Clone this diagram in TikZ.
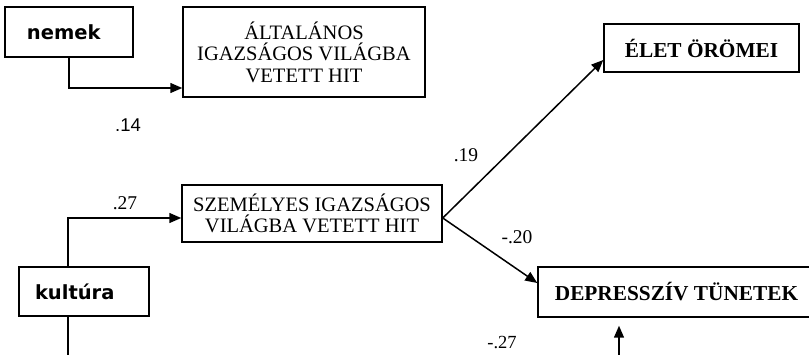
\documentclass[tikz,border=0pt]{standalone}
\usepackage{fontspec}
\setmainfont{Liberation Serif}
\newfontfamily\labelsans{Liberation Sans}
\newfontfamily\boxsans{DejaVu Sans}
\usetikzlibrary{arrows.meta}

\begin{document}
\begin{tikzpicture}[x=1pt,y=-1pt,
  box/.style={draw, line width=1.5pt, inner sep=0pt, align=center, rectangle},
  varbox/.style={box, align=left, font=\boxsans\bfseries\fontsize{19.5}{22}\selectfont},
  textbox/.style={box, font=\fontsize{20.5}{21.5}\selectfont},
  boldbox/.style={box, font=\bfseries\fontsize{21.3}{24}\selectfont},
  link/.style={line width=1.5pt, -{Triangle[length=12pt,width=10pt]}},
  plain/.style={line width=1.5pt},
  coef/.style={inner sep=0pt, font=\fontsize{19.5}{20}\selectfont},
]
\useasboundingbox (0,0) rectangle (809,355);
\clip (0,0) rectangle (809,355);

% variables
\node[varbox, inner xsep=22pt, text width=84pt, minimum height=50pt] (nemek) at (69,32) {nemek};
\node[varbox, inner xsep=16pt, text width=98pt, minimum height=49pt] (kultura) at (84,291.5) {kultúra};

% beliefs
\node[textbox, minimum width=242pt, minimum height=90pt] (altalanos) at (304,52)
  {ÁLTALÁNOS\\IGAZSÁGOS VILÁGBA\\VETETT HIT};
\node[textbox, minimum width=260pt, minimum height=57pt] (szemelyes) at (312,213.5)
  {SZEMÉLYES IGAZSÁGOS\\VILÁGBA VETETT HIT};

% outcomes
\node[boldbox, minimum width=195pt, minimum height=48pt] (elet) at (701.5,48) {ÉLET ÖRÖMEI};
\node[boldbox, minimum width=277pt, minimum height=50pt] (depr) at (676.5,292) {DEPRESSZÍV TÜNETEK};

% free ends running off the bottom edge
\coordinate (kultend) at (68,357);
\coordinate (uptail) at (619,357);

% paths
\draw[link] (nemek.south) |- ([yshift=-36pt]altalanos.west);
\draw[link] ([xshift=-16pt]kultura.north) |- ([yshift=-4.5pt]szemelyes.west);
\draw[plain] ([xshift=-16pt]kultura.south) -- (kultend);
\coordinate (fork) at ([yshift=-4.5pt]szemelyes.east);
\draw[link] (fork) -- ([yshift=-12pt]elet.west);
\draw[link] (fork) -- ([yshift=9pt]depr.west);
\draw[link] (uptail) -- ([xshift=-57.5pt,yshift=-8pt]depr.south);

% path coefficients
\node[coef, font=\labelsans\fontsize{18.5}{20}\selectfont] (c14) at (128,125) {.14};
\node[coef] (c27) at (125,203) {.27};
\node[coef] (c19) at (466,155) {.19};
\node[coef] (c20) at (517,237) {-.20};
\node[coef, font=\fontsize{18.5}{20}\selectfont] (cm27) at (502,343) {-.27};
\end{tikzpicture}
\end{document}
